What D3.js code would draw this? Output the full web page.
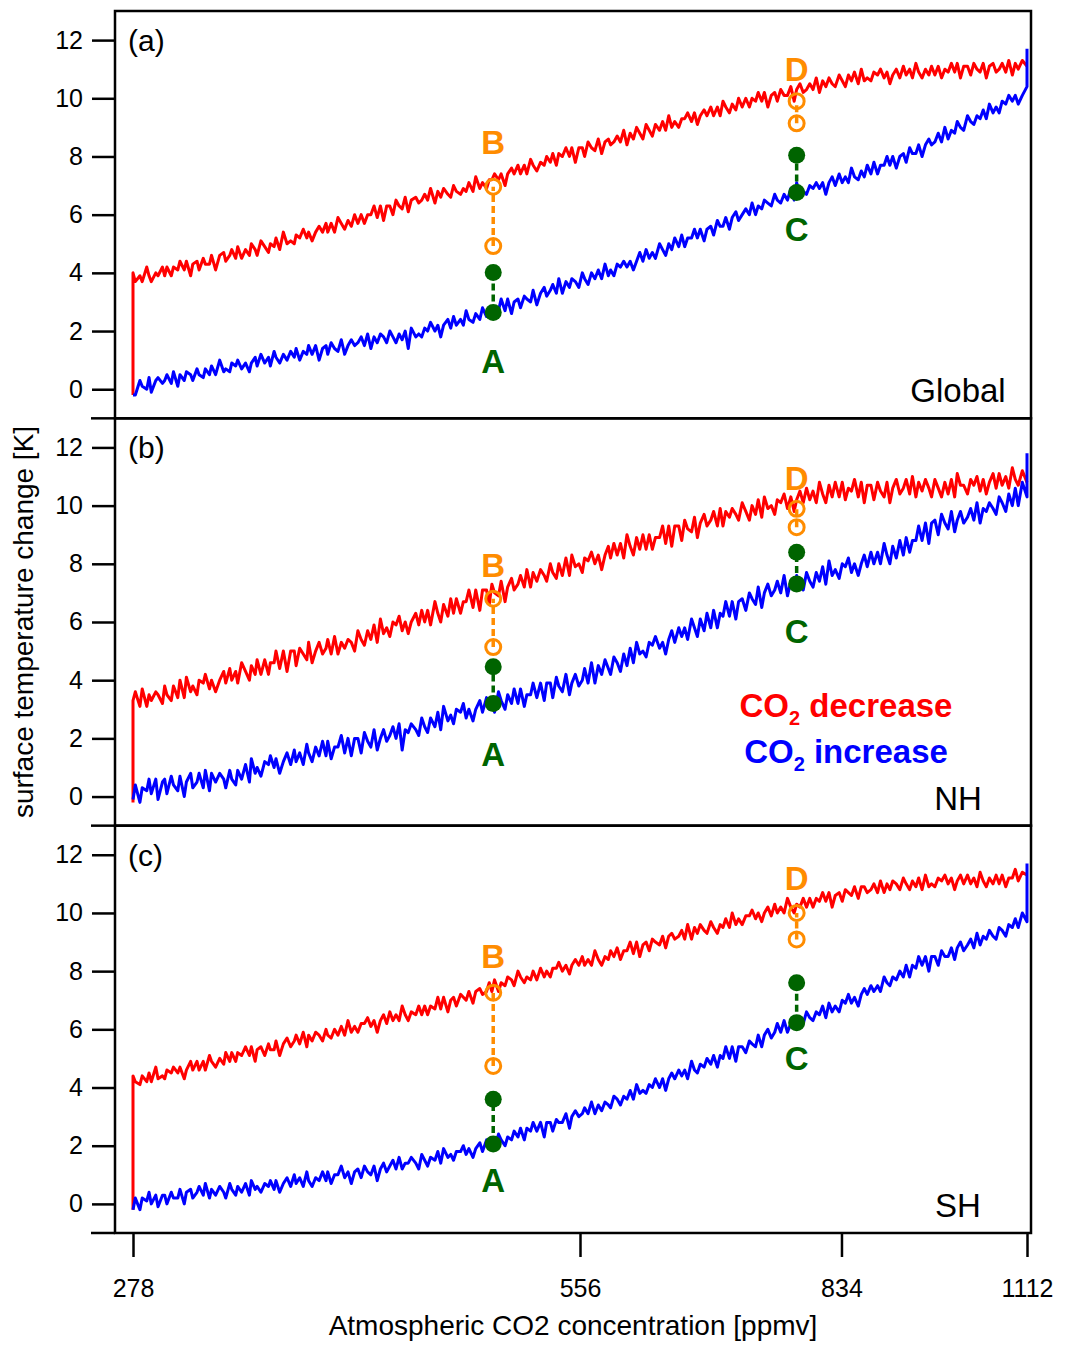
<!DOCTYPE html>
<html>
<head>
<meta charset="utf-8">
<title>CO2 hysteresis</title>
<script src="https://d3js.org/d3.v7.min.js"></script>
<style>
  body { margin: 0; background: #fff; }
  text { font-family: "Liberation Sans", Arial, Helvetica, sans-serif; }
</style>
</head>
<body>
<div id="chart"></div>
<script>
// CO2 grid (ppmv), roughly 0.5 % steps from 278 to 1112
var co2 = [
  278, 279, 281, 282, 284, 285, 286, 288, 289, 291, 292, 293, 295, 296, 298, 299, 301, 302, 304, 305,
  307, 308, 310, 311, 313, 314, 316, 318, 320, 321, 323, 324, 326, 327, 329, 331, 333, 334, 336, 337,
  339, 341, 343, 344, 346, 347, 349, 351, 353, 355, 357, 358, 360, 362, 364, 365, 367, 369, 371, 373,
  375, 376, 378, 380, 382, 384, 386, 388, 390, 392, 394, 396, 398, 400, 402, 404, 406, 408, 410, 412,
  414, 416, 418, 420, 422, 424, 426, 428, 431, 433, 435, 437, 439, 441, 444, 446, 448, 450, 453, 455,
  457, 459, 462, 464, 466, 468, 471, 473, 476, 478, 481, 483, 485, 487, 490, 492, 495, 497, 500, 502,
  505, 507, 510, 512, 515, 517, 520, 523, 526, 528, 531, 533, 536, 538, 541, 544, 547, 549, 552, 555,
  558, 560, 563, 566, 569, 572, 575, 578, 581, 583, 586, 589, 592, 595, 598, 601, 604, 607, 610, 613,
  616, 619, 622, 625, 629, 632, 635, 638, 641, 644, 648, 651, 654, 657, 661, 664, 667, 670, 674, 677,
  681, 684, 688, 691, 694, 697, 701, 704, 708, 711, 715, 719, 723, 726, 730, 733, 737, 740, 744, 748,
  752, 755, 759, 763, 767, 771, 775, 778, 782, 786, 790, 794, 798, 802, 806, 810, 814, 818, 822, 826,
  831, 835, 839, 843, 847, 851, 856, 860, 864, 868, 873, 877, 882, 886, 891, 895, 899, 903, 908, 913,
  918, 922, 927, 931, 936, 940, 945, 950, 955, 959, 964, 969, 974, 979, 984, 989, 994, 998, 1003, 1008,
  1014, 1019, 1024, 1029, 1034, 1039, 1044, 1049, 1055, 1060, 1065, 1070, 1076, 1081, 1087, 1092, 1097, 1104, 1112
];

// (a) Global, surface temperature change (K)
var decGlobal = [
  4.0, 3.7, 3.9, 3.7, 4.2, 3.9, 3.7, 4.0, 3.9, 4.2,
  3.9, 4.2, 3.9, 4.2, 4.1, 4.4, 4.1, 4.4, 3.9, 4.3,
  4.4, 4.1, 4.5, 4.3, 4.3, 4.6, 4.1, 4.6, 4.7, 4.4,
  4.6, 4.8, 4.5, 4.9, 4.5, 4.8, 4.6, 5.0, 4.8, 4.6,
  5.1, 4.9, 4.7, 5.0, 4.9, 5.2, 4.8, 5.4, 5.0, 5.1,
  5.0, 5.3, 5.2, 5.5, 5.2, 5.4, 5.1, 5.4, 5.6, 5.4,
  5.7, 5.4, 5.7, 5.4, 5.9, 5.7, 5.5, 5.8, 5.6, 6.0,
  5.7, 6.0, 5.7, 6.0, 6.0, 6.3, 5.9, 6.3, 5.8, 6.3,
  6.3, 6.0, 6.5, 6.3, 6.2, 6.6, 6.1, 6.5, 6.6, 6.4,
  6.5, 6.7, 6.5, 6.9, 6.4, 6.8, 6.6, 6.9, 6.7, 6.6,
  7.0, 6.8, 6.7, 6.9, 6.8, 7.1, 6.8, 7.3, 6.9, 7.1,
  6.9, 7.2, 7.2, 7.4, 7.2, 7.4, 7.0, 7.4, 7.6, 7.4,
  7.7, 7.4, 7.7, 7.4, 7.9, 7.7, 7.5, 7.8, 7.7, 8.0,
  7.8, 8.1, 7.7, 8.1, 8.0, 8.3, 8.0, 8.3, 7.8, 8.3,
  8.3, 8.0, 8.5, 8.3, 8.2, 8.6, 8.1, 8.5, 8.6, 8.4,
  8.5, 8.7, 8.5, 8.9, 8.4, 8.8, 8.6, 9.0, 8.8, 8.6,
  9.1, 8.9, 8.7, 9.1, 8.9, 9.2, 8.9, 9.4, 9.0, 9.2,
  9.0, 9.3, 9.3, 9.5, 9.2, 9.5, 9.1, 9.4, 9.6, 9.4,
  9.7, 9.4, 9.7, 9.4, 9.9, 9.7, 9.5, 9.8, 9.6, 10.0,
  9.7, 10.0, 9.7, 10.0, 9.9, 10.2, 9.9, 10.2, 9.7, 10.1,
  10.2, 9.9, 10.3, 10.1, 10.1, 10.4, 9.9, 10.3, 10.5, 10.2,
  10.3, 10.5, 10.3, 10.7, 10.2, 10.6, 10.4, 10.7, 10.5, 10.4,
  10.8, 10.6, 10.4, 10.8, 10.6, 10.9, 10.5, 11.0, 10.6, 10.7,
  10.6, 10.9, 10.8, 11.0, 10.7, 10.9, 10.5, 10.8, 11.0, 10.7,
  11.1, 10.8, 11.0, 10.7, 11.2, 10.9, 10.7, 11.0, 10.8, 11.1,
  10.8, 11.1, 10.7, 11.0, 10.9, 11.2, 10.9, 11.2, 10.7, 11.1,
  11.1, 10.8, 11.2, 11.0, 10.9, 11.2, 10.7, 11.1, 11.2, 10.9,
  11.0, 11.2, 10.9, 11.3, 10.8, 11.2, 11.0, 11.3, 11.1
];
var incGlobal = [
  -0.2, -0.2, 0.3, 0.1, 0.0, 0.4, -0.1, 0.3, 0.4, 0.2,
  0.3, 0.5, 0.2, 0.6, 0.1, 0.5, 0.3, 0.6, 0.5, 0.3,
  0.7, 0.5, 0.4, 0.7, 0.5, 0.8, 0.5, 1.0, 0.6, 0.7,
  0.6, 0.9, 0.8, 1.0, 0.7, 0.9, 0.6, 0.9, 1.1, 0.8,
  1.2, 0.9, 1.1, 0.8, 1.3, 1.1, 0.9, 1.2, 1.0, 1.3,
  1.1, 1.4, 1.0, 1.3, 1.2, 1.5, 1.2, 1.5, 1.0, 1.4,
  1.5, 1.2, 1.6, 1.4, 1.3, 1.7, 1.2, 1.5, 1.7, 1.5,
  1.6, 1.8, 1.5, 1.9, 1.4, 1.8, 1.6, 1.9, 1.8, 1.6,
  2.0, 1.8, 1.6, 1.9, 1.7, 2.0, 1.4, 2.1, 1.8, 1.9,
  1.8, 2.1, 2.0, 2.3, 2.0, 2.2, 1.8, 2.2, 2.4, 2.1,
  2.5, 2.2, 2.4, 2.2, 2.7, 2.4, 2.3, 2.6, 2.4, 2.8,
  2.5, 2.8, 2.5, 2.8, 2.7, 3.1, 2.7, 3.1, 2.6, 3.0,
  3.1, 2.8, 3.2, 3.1, 3.0, 3.4, 2.9, 3.3, 3.5, 3.2,
  3.4, 3.6, 3.3, 3.8, 3.3, 3.7, 3.5, 3.8, 3.7, 3.5,
  4.0, 3.8, 3.6, 4.0, 3.8, 4.1, 3.8, 4.3, 3.9, 4.1,
  3.9, 4.3, 4.2, 4.4, 4.2, 4.4, 4.1, 4.4, 4.7, 4.4,
  4.8, 4.5, 4.7, 4.5, 5.0, 4.8, 4.6, 5.0, 4.8, 5.2,
  4.9, 5.3, 4.9, 5.2, 5.2, 5.5, 5.2, 5.5, 5.1, 5.5,
  5.6, 5.3, 5.8, 5.6, 5.6, 5.9, 5.5, 5.9, 6.1, 5.8,
  6.0, 6.2, 6.0, 6.4, 6.0, 6.3, 6.2, 6.5, 6.4, 6.3,
  6.7, 6.5, 6.4, 6.7, 6.5, 6.9, 6.5, 7.1, 6.7, 6.8,
  6.7, 7.0, 6.9, 7.1, 6.9, 7.1, 6.7, 7.1, 7.3, 7.0,
  7.4, 7.1, 7.3, 7.1, 7.6, 7.3, 7.2, 7.5, 7.3, 7.7,
  7.4, 7.8, 7.4, 7.7, 7.7, 8.0, 7.7, 8.0, 7.6, 8.0,
  8.1, 7.8, 8.3, 8.1, 8.1, 8.4, 8.0, 8.4, 8.6, 8.4,
  8.5, 8.8, 8.5, 9.0, 8.6, 8.9, 8.8, 9.2, 9.0, 8.9,
  9.4, 9.2, 9.1, 9.4, 9.3, 9.6, 9.3, 9.8, 9.5, 9.7,
  9.5, 9.9, 9.8, 10.1, 9.9, 10.1, 9.8, 10.1, 10.4
];

// (b) NH
var decNH = [
  3.3, 3.6, 3.1, 3.7, 3.1, 3.5, 3.3, 3.6, 3.5, 3.2,
  3.8, 3.5, 3.3, 3.8, 3.4, 4.0, 3.4, 4.1, 3.6, 3.8,
  3.5, 4.0, 3.9, 4.2, 3.7, 4.0, 3.6, 4.0, 4.3, 3.9,
  4.4, 4.0, 4.3, 3.9, 4.6, 4.3, 4.0, 4.5, 4.2, 4.7,
  4.2, 4.7, 4.2, 4.6, 4.6, 5.0, 4.4, 5.0, 4.3, 5.0,
  5.0, 4.5, 5.1, 4.9, 4.7, 5.3, 4.6, 5.0, 5.3, 4.9,
  5.1, 5.4, 4.9, 5.5, 4.9, 5.3, 5.1, 5.4, 5.3, 5.0,
  5.7, 5.4, 5.2, 5.7, 5.4, 5.9, 5.3, 6.1, 5.6, 5.8,
  5.5, 6.0, 5.9, 6.2, 5.7, 6.0, 5.6, 6.0, 6.3, 5.9,
  6.4, 6.0, 6.4, 5.9, 6.7, 6.3, 6.0, 6.6, 6.2, 6.8,
  6.3, 6.8, 6.3, 6.7, 6.7, 7.1, 6.5, 7.1, 6.4, 7.1,
  7.1, 6.6, 7.3, 7.0, 6.9, 7.4, 6.7, 7.2, 7.5, 7.1,
  7.3, 7.6, 7.2, 7.8, 7.2, 7.7, 7.4, 7.8, 7.6, 7.4,
  8.0, 7.7, 7.5, 8.0, 7.6, 8.2, 7.6, 8.3, 7.9, 8.0,
  7.7, 8.2, 8.1, 8.4, 8.0, 8.3, 7.8, 8.3, 8.6, 8.2,
  8.7, 8.3, 8.7, 8.2, 9.0, 8.6, 8.3, 8.9, 8.5, 9.0,
  8.5, 9.0, 8.5, 8.9, 8.9, 9.3, 8.7, 9.3, 8.6, 9.3,
  9.3, 8.8, 9.5, 9.2, 9.1, 9.6, 8.9, 9.4, 9.7, 9.3,
  9.5, 9.8, 9.3, 9.9, 9.3, 9.8, 9.6, 9.9, 9.7, 9.5,
  10.1, 9.8, 9.5, 10.0, 9.7, 10.2, 9.6, 10.3, 9.9, 10.0,
  9.7, 10.2, 10.1, 10.4, 9.9, 10.3, 9.8, 10.2, 10.5, 10.1,
  10.6, 10.2, 10.5, 10.1, 10.8, 10.4, 10.1, 10.7, 10.3, 10.8,
  10.3, 10.8, 10.2, 10.6, 10.5, 10.9, 10.3, 10.8, 10.1, 10.7,
  10.7, 10.2, 10.8, 10.5, 10.3, 10.8, 10.1, 10.6, 10.9, 10.4,
  10.6, 10.9, 10.4, 11.0, 10.3, 10.8, 10.5, 10.9, 10.6, 10.3,
  10.9, 10.6, 10.3, 10.8, 10.4, 10.9, 10.3, 11.1, 10.7, 10.7,
  10.4, 10.9, 10.7, 11.0, 10.5, 10.9, 10.4, 10.8, 11.1, 10.6,
  11.1, 10.7, 11.0, 10.6, 11.3, 10.9, 10.7, 11.2, 10.8
];
var incNH = [
  -0.1, 0.4, -0.2, 0.3, 0.2, 0.6, 0.1, 0.6, -0.1, 0.5,
  0.6, 0.1, 0.7, 0.4, 0.2, 0.7, 0.0, 0.5, 0.8, 0.3,
  0.5, 0.8, 0.3, 0.9, 0.2, 0.8, 0.5, 0.8, 0.6, 0.3,
  0.9, 0.6, 0.4, 0.9, 0.6, 1.1, 0.5, 1.3, 0.8, 1.0,
  0.7, 1.2, 1.1, 1.4, 1.0, 1.3, 0.8, 1.2, 1.5, 1.1,
  1.6, 1.2, 1.5, 1.1, 1.8, 1.5, 1.2, 1.7, 1.4, 1.9,
  1.4, 1.9, 1.3, 1.7, 1.7, 2.1, 1.5, 2.0, 1.4, 2.0,
  2.0, 1.5, 2.2, 1.9, 1.7, 2.3, 1.6, 2.0, 2.3, 1.9,
  2.1, 2.4, 2.0, 2.5, 1.6, 2.3, 2.2, 2.5, 2.3, 2.1,
  2.7, 2.4, 2.2, 2.7, 2.4, 2.9, 2.3, 3.1, 2.6, 2.8,
  2.5, 3.0, 2.9, 3.2, 2.7, 3.0, 2.6, 3.0, 3.3, 2.9,
  3.4, 3.0, 3.3, 2.9, 3.6, 3.3, 3.0, 3.5, 3.2, 3.7,
  3.2, 3.7, 3.1, 3.5, 3.5, 3.9, 3.4, 3.9, 3.3, 3.9,
  3.9, 3.4, 4.1, 3.8, 3.6, 4.2, 3.5, 3.9, 4.2, 3.8,
  4.0, 4.4, 3.9, 4.6, 3.9, 4.5, 4.2, 4.7, 4.4, 4.2,
  4.8, 4.6, 4.3, 4.9, 4.5, 5.1, 4.6, 5.3, 4.9, 5.0,
  4.8, 5.3, 5.2, 5.5, 5.1, 5.3, 4.9, 5.4, 5.7, 5.3,
  5.8, 5.5, 5.8, 5.4, 6.1, 5.8, 5.5, 6.1, 5.7, 6.3,
  5.8, 6.4, 5.8, 6.3, 6.2, 6.7, 6.2, 6.7, 6.1, 6.7,
  6.8, 6.4, 7.0, 6.8, 6.6, 7.2, 6.5, 7.0, 7.3, 6.9,
  7.1, 7.4, 7.0, 7.6, 6.9, 7.4, 7.3, 7.6, 7.3, 7.1,
  7.7, 7.4, 7.2, 7.7, 7.4, 7.9, 7.3, 8.1, 7.6, 7.8,
  7.5, 8.0, 7.9, 8.2, 7.7, 8.0, 7.6, 8.0, 8.3, 7.9,
  8.4, 8.0, 8.4, 8.0, 8.7, 8.3, 8.0, 8.6, 8.2, 8.8,
  8.3, 8.9, 8.4, 8.8, 8.8, 9.3, 8.8, 9.4, 8.7, 9.4,
  9.5, 9.0, 9.7, 9.4, 9.2, 9.8, 9.1, 9.5, 9.8, 9.4,
  9.6, 9.9, 9.5, 10.1, 9.4, 9.9, 9.8, 10.1, 9.9, 9.7,
  10.3, 10.1, 9.8, 10.4, 10.0, 10.6, 10.0, 10.8, 10.3
];

// (c) SH
var decSH = [
  4.4, 4.2, 4.1, 4.4, 4.2, 4.5, 4.2, 4.7, 4.3, 4.4,
  4.3, 4.6, 4.5, 4.7, 4.5, 4.7, 4.3, 4.6, 4.9, 4.6,
  4.9, 4.6, 4.9, 4.6, 5.1, 4.9, 4.7, 5.0, 4.8, 5.2,
  4.9, 5.2, 4.9, 5.2, 5.1, 5.4, 5.1, 5.4, 4.9, 5.3,
  5.4, 5.1, 5.5, 5.3, 5.3, 5.6, 5.1, 5.5, 5.7, 5.4,
  5.6, 5.8, 5.5, 5.9, 5.4, 5.8, 5.6, 5.9, 5.8, 5.6,
  6.0, 5.8, 5.7, 6.0, 5.8, 6.1, 5.8, 6.3, 5.9, 6.1,
  5.9, 6.2, 6.2, 6.4, 6.1, 6.3, 5.9, 6.3, 6.5, 6.2,
  6.6, 6.3, 6.5, 6.3, 6.8, 6.5, 6.3, 6.6, 6.5, 6.8,
  6.5, 6.8, 6.5, 6.8, 6.7, 7.1, 6.7, 7.1, 6.6, 7.0,
  7.1, 6.8, 7.2, 7.1, 7.0, 7.3, 6.9, 7.3, 7.4, 7.2,
  7.3, 7.6, 7.3, 7.7, 7.3, 7.6, 7.5, 7.8, 7.7, 7.5,
  8.0, 7.8, 7.6, 7.8, 7.7, 8.0, 7.7, 8.1, 7.8, 8.0,
  7.8, 8.1, 8.1, 8.3, 8.0, 8.2, 7.9, 8.2, 8.4, 8.2,
  8.5, 8.2, 8.4, 8.2, 8.7, 8.4, 8.2, 8.5, 8.4, 8.7,
  8.5, 8.8, 8.4, 8.7, 8.7, 9.0, 8.6, 9.0, 8.5, 8.9,
  9.0, 8.7, 9.1, 9.0, 8.9, 9.2, 8.8, 9.2, 9.3, 9.1,
  9.2, 9.4, 9.1, 9.6, 9.1, 9.5, 9.3, 9.6, 9.4, 9.3,
  9.7, 9.5, 9.3, 9.6, 9.5, 9.8, 9.5, 10.0, 9.6, 9.8,
  9.6, 9.9, 9.9, 10.1, 9.8, 10.0, 9.7, 10.0, 10.2, 9.9,
  10.3, 10.0, 10.2, 10.0, 10.5, 10.2, 10.0, 10.3, 10.2, 10.5,
  10.2, 10.5, 10.2, 10.5, 10.4, 10.7, 10.4, 10.7, 10.2, 10.6,
  10.7, 10.4, 10.8, 10.7, 10.6, 10.9, 10.5, 10.9, 10.9, 10.7,
  10.8, 11.0, 10.7, 11.1, 10.7, 11.0, 10.8, 11.1, 11.0, 10.8,
  11.2, 11.0, 10.8, 11.1, 10.9, 11.2, 10.8, 11.3, 10.9, 11.0,
  10.9, 11.2, 11.1, 11.3, 11.0, 11.2, 10.8, 11.1, 11.3, 11.0,
  11.3, 11.0, 11.2, 10.9, 11.4, 11.1, 10.9, 11.2, 11.0, 11.3,
  11.0, 11.3, 10.9, 11.2, 11.2, 11.5, 11.1, 11.4, 11.3
];
var incSH = [
  -0.2, 0.2, -0.2, 0.2, 0.1, 0.4, 0.0, 0.3, -0.1, 0.3,
  0.3, 0.0, 0.4, 0.2, 0.2, 0.5, 0.0, 0.4, 0.5, 0.2,
  0.4, 0.6, 0.3, 0.7, 0.2, 0.5, 0.3, 0.6, 0.4, 0.2,
  0.7, 0.5, 0.3, 0.6, 0.4, 0.7, 0.3, 0.8, 0.5, 0.6,
  0.4, 0.7, 0.6, 0.8, 0.5, 0.8, 0.4, 0.7, 0.9, 0.6,
  1.0, 0.7, 0.9, 0.6, 1.1, 0.8, 0.6, 0.9, 0.8, 1.1,
  0.8, 1.1, 0.7, 1.0, 1.0, 1.3, 0.9, 1.1, 0.7, 1.1,
  1.2, 0.9, 1.3, 1.1, 1.0, 1.3, 0.8, 1.2, 1.4, 1.1,
  1.3, 1.5, 1.2, 1.6, 1.2, 1.4, 1.4, 1.6, 1.4, 1.2,
  1.7, 1.5, 1.3, 1.6, 1.5, 1.8, 1.4, 1.9, 1.6, 1.7,
  1.5, 1.8, 1.8, 2.0, 1.7, 1.9, 1.6, 1.9, 2.1, 1.8,
  2.2, 1.9, 2.1, 1.9, 2.4, 2.2, 2.0, 2.3, 2.2, 2.5,
  2.3, 2.6, 2.2, 2.6, 2.5, 2.8, 2.5, 2.8, 2.3, 2.8,
  2.8, 2.5, 2.9, 2.8, 2.8, 3.1, 2.6, 3.0, 3.2, 3.0,
  3.1, 3.3, 3.1, 3.5, 3.1, 3.4, 3.2, 3.5, 3.4, 3.3,
  3.7, 3.6, 3.4, 3.7, 3.6, 3.9, 3.6, 4.1, 3.8, 3.9,
  3.8, 4.1, 4.0, 4.3, 4.0, 4.3, 3.9, 4.3, 4.5, 4.3,
  4.6, 4.4, 4.6, 4.3, 4.9, 4.6, 4.5, 4.8, 4.7, 5.0,
  4.8, 5.1, 4.7, 5.1, 5.0, 5.4, 5.0, 5.4, 4.9, 5.4,
  5.4, 5.2, 5.6, 5.5, 5.4, 5.8, 5.4, 5.8, 6.0, 5.7,
  5.9, 6.2, 5.9, 6.3, 5.9, 6.2, 6.1, 6.4, 6.3, 6.2,
  6.6, 6.4, 6.3, 6.6, 6.5, 6.8, 6.4, 6.9, 6.6, 6.8,
  6.6, 7.0, 6.9, 7.2, 6.9, 7.1, 6.8, 7.2, 7.4, 7.2,
  7.5, 7.3, 7.5, 7.3, 7.8, 7.6, 7.5, 7.8, 7.7, 8.0,
  7.8, 8.2, 7.8, 8.2, 8.1, 8.5, 8.2, 8.5, 8.0, 8.5,
  8.5, 8.2, 8.7, 8.5, 8.5, 8.8, 8.4, 8.8, 9.0, 8.7,
  8.9, 9.1, 8.8, 9.3, 8.9, 9.2, 9.1, 9.4, 9.2, 9.1,
  9.5, 9.4, 9.2, 9.6, 9.5, 9.8, 9.5, 10.0, 9.7
];

// end of the decrease run at 278 ppmv, and peak of the increase run at 1112 ppmv
var decEnd = [-0.2, -0.2, -0.2];
var incPeak = [11.7, 11.8, 11.7];

// marked states: A,B at 486 ppmv, C,D at 778 ppmv  [lower, upper] in K
var markCO2 = [486, 778];
var markA = [[2.64, 4.01], [3.2, 4.46], [2.06, 3.6]];
var markB = [[4.92, 6.96], [5.14, 6.8], [4.74, 7.26]];
var markC = [[6.76, 8.04], [7.31, 8.4], [6.23, 7.6]];
var markD = [[9.14, 9.9], [9.26, 9.89], [9.09, 10.0]];
// letter label heights (K)
var labelA = [0.95, 1.45, 0.8];
var labelB = [8.5, 7.95, 8.5];
var labelC = [5.5, 5.7, 5.0];
var labelD = [11.0, 10.95, 11.2];

var tags = ["(a)", "(b)", "(c)"];
var regions = ["Global", "NH", "SH"];
var yTicks = [0, 2, 4, 6, 8, 10, 12];
var xTicks = [278, 556, 834, 1112];

var decSeries = [decGlobal, decNH, decSH];
var incSeries = [incGlobal, incNH, incSH];

var width = 1066, height = 1345;
var left = 115, right = 1031, top0 = 11, panelH = 407.33;
var orange = "#ff8c00", green = "#006400";

var svg = d3.select("#chart").append("svg")
  .attr("width", width)
  .attr("height", height);

var x = d3.scaleLog()
  .domain([278, 1112])
  .range([133, 1027]);

var lastBottom = 0;

tags.forEach(function(tag, i) {
  var t = top0 + i * panelH, b = t + panelH;
  lastBottom = b;
  var y = d3.scaleLinear().domain([-1, 13]).range([b, t]);
  var g = svg.append("g");

  var line = d3.line()
    .x(d => x(d[0]))
    .y(d => y(d[1]));

  // CO2 decrease (red), with the final relaxation drop at 278
  var decPts = [[278, decEnd[i]]].concat(d3.zip(co2, decSeries[i]));
  g.append("path")
    .datum(decPts)
    .attr("fill", "none")
    .attr("stroke", "#ff0000")
    .attr("stroke-width", 3)
    .attr("stroke-linejoin", "round")
    .attr("d", line);

  // CO2 increase (blue)
  var incPts = d3.zip(co2, incSeries[i]).concat([[1112, incPeak[i]]]);
  g.append("path")
    .datum(incPts)
    .attr("fill", "none")
    .attr("stroke", "#0000ff")
    .attr("stroke-width", 3)
    .attr("stroke-linejoin", "round")
    .attr("d", line);

  // marked pairs
  var pairs = [
    {c: markCO2[0], v: markA[i], col: green, filled: true, txt: "A", ly: labelA[i]},
    {c: markCO2[0], v: markB[i], col: orange, filled: false, txt: "B", ly: labelB[i]},
    {c: markCO2[1], v: markC[i], col: green, filled: true, txt: "C", ly: labelC[i]},
    {c: markCO2[1], v: markD[i], col: orange, filled: false, txt: "D", ly: labelD[i]}
  ];
  pairs.forEach(function(p) {
    g.append("line")
      .attr("x1", x(p.c)).attr("x2", x(p.c))
      .attr("y1", y(p.v[0])).attr("y2", y(p.v[1]))
      .attr("stroke", p.col)
      .attr("stroke-width", 3.5)
      .attr("stroke-dasharray", "7,4");
    g.selectAll(null)
      .data(p.v)
      .enter().append("circle")
      .attr("cx", x(p.c))
      .attr("cy", d => y(d))
      .attr("r", p.filled ? 8.5 : 7.5)
      .attr("fill", p.filled ? p.col : "none")
      .attr("stroke", p.col)
      .attr("stroke-width", p.filled ? 0 : 3);
    g.append("text")
      .attr("x", x(p.c))
      .attr("y", y(p.ly))
      .attr("dy", "0.36em")
      .attr("text-anchor", "middle")
      .attr("font-size", 33)
      .attr("font-weight", "bold")
      .attr("fill", p.col)
      .text(p.txt);
  });

  // frame
  g.append("rect")
    .attr("x", left).attr("y", t)
    .attr("width", right - left).attr("height", panelH)
    .attr("fill", "none")
    .attr("stroke", "#000")
    .attr("stroke-width", 2.5);

  // bottom line runs out to the left like a tick
  g.append("line")
    .attr("x1", 91).attr("x2", left)
    .attr("y1", b).attr("y2", b)
    .attr("stroke", "#000")
    .attr("stroke-width", 2.5);

  var ax = g.append("g")
    .attr("transform", "translate(" + left + ",0)")
    .call(d3.axisLeft(y).tickValues(yTicks).tickSize(23).tickPadding(9).tickFormat(d3.format("d")));
  ax.select(".domain").remove();
  ax.selectAll("line").attr("stroke", "#000").attr("stroke-width", 2.5);
  ax.selectAll("text")
    .attr("font-size", 25)
    .attr("font-family", "Liberation Sans, Arial, sans-serif")
    .attr("fill", "#000");

  g.append("text")
    .attr("x", 128).attr("y", t + 40)
    .attr("font-size", 30)
    .text(tag);

  g.append("text")
    .attr("x", 958).attr("y", b - 16)
    .attr("text-anchor", "middle")
    .attr("font-size", 33)
    .text(regions[i]);

  if (i === 1) {
    var lg = [{c: "#ff0000", w: " decrease", yy: 717}, {c: "#0000ff", w: " increase", yy: 763}];
    lg.forEach(function(l) {
      var tx = g.append("text")
        .attr("x", 846).attr("y", l.yy)
        .attr("text-anchor", "middle")
        .attr("font-size", 33)
        .attr("font-weight", "bold")
        .attr("fill", l.c);
      tx.append("tspan").text("CO");
      tx.append("tspan").attr("font-size", 20).attr("dy", 8).text("2");
      tx.append("tspan").attr("dy", -8).text(l.w);
    });
  }
});

// x axis under the last panel
var xa = svg.append("g")
  .attr("transform", "translate(0," + lastBottom + ")")
  .call(d3.axisBottom(x).tickValues(xTicks).tickSize(24).tickPadding(22).tickFormat(d3.format("d")));
xa.select(".domain").remove();
xa.selectAll("line").attr("stroke", "#000").attr("stroke-width", 2.5);
xa.selectAll("text")
  .attr("font-size", 25)
  .attr("font-family", "Liberation Sans, Arial, sans-serif")
  .attr("fill", "#000");

svg.append("text")
  .attr("x", 573).attr("y", 1335)
  .attr("text-anchor", "middle")
  .attr("font-size", 28)
  .text("Atmospheric CO2 concentration [ppmv]");

svg.append("text")
  .attr("transform", "translate(33,622) rotate(-90)")
  .attr("text-anchor", "middle")
  .attr("font-size", 28)
  .text("surface temperature change [K]");
</script>
</body>
</html>
